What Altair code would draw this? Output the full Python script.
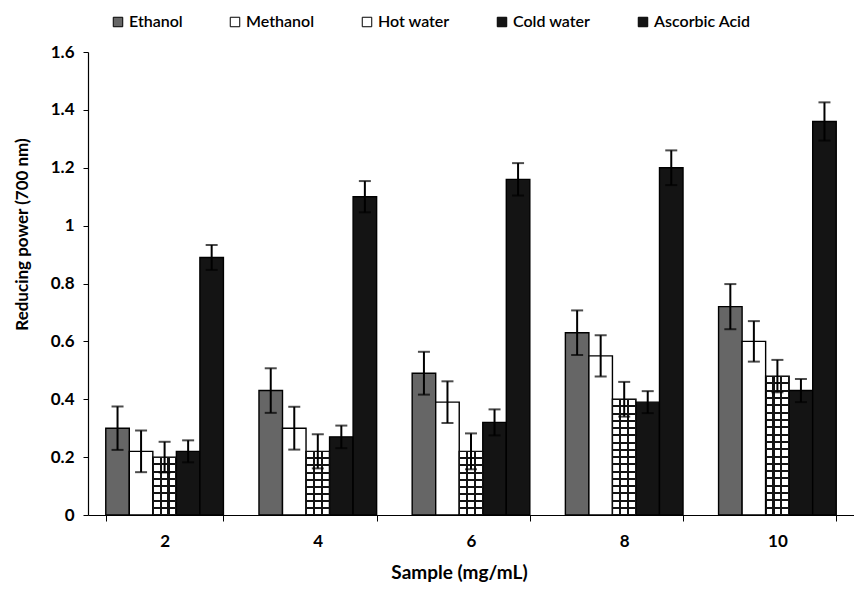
import altair as alt
import pandas as pd

samples = ["2", "4", "6", "8", "10"]
series = ["Ethanol", "Methanol", "Hot water", "Cold water", "Ascorbic Acid"]

ethanol = [0.30, 0.43, 0.49, 0.63, 0.72]
methanol = [0.22, 0.30, 0.39, 0.55, 0.60]
hot_water = [0.20, 0.22, 0.22, 0.40, 0.48]
cold_water = [0.22, 0.27, 0.32, 0.39, 0.43]
ascorbic = [0.89, 1.10, 1.16, 1.20, 1.36]

err_ethanol = [0.075, 0.077, 0.074, 0.077, 0.078]
err_methanol = [0.072, 0.074, 0.072, 0.071, 0.070]
err_hot_water = [0.053, 0.059, 0.062, 0.060, 0.056]
err_cold_water = [0.038, 0.039, 0.045, 0.038, 0.040]
err_ascorbic = [0.043, 0.054, 0.056, 0.060, 0.066]

y_ticks = [0, 0.2, 0.4, 0.6, 0.8, 1.0, 1.2, 1.4, 1.6]

values = [ethanol, methanol, hot_water, cold_water, ascorbic]
errors = [err_ethanol, err_methanol, err_hot_water, err_cold_water, err_ascorbic]

rows = []
for s, vals, errs in zip(series, values, errors):
    for smp, v, e in zip(samples, vals, errs):
        rows.append({"sample": smp, "series": s, "value": v,
                     "lo": v - e, "hi": v + e})
df = pd.DataFrame(rows)

W, H = 766, 463
FONT = "Lato"
BLACK = "#141414"
CLEAR = "rgba(0,0,0,0)"

x_enc = alt.X("sample:N", sort=samples,
              scale=alt.Scale(paddingInner=0.232, paddingOuter=0.116),
              axis=alt.Axis(title="Sample (mg/mL)", labelAngle=0, tickBand="extent",
                            tickSize=6, labelPadding=12, titleX=371, titleY=57,
                            titleBaseline="middle", titleFontSize=19))
xo_enc = alt.XOffset("series:N", sort=series,
                     scale=alt.Scale(domain=series, paddingInner=0, paddingOuter=0))
y_scale = alt.Scale(domain=[0, 1.6], nice=False)
y_enc = alt.Y("value:Q", scale=y_scale,
              axis=alt.Axis(title="Reducing power (700 nm)", values=y_ticks,
                            format=".1~f", tickSize=5, labelPadding=9,
                            titleX=-66, titleY=182, titleAngle=-90,
                            titleBaseline="middle", titleAlign="center"))

base = alt.Chart(df)

bars = base.mark_bar(stroke="black", strokeWidth=1.4).encode(
    x=x_enc, xOffset=xo_enc, y=y_enc,
    color=alt.Color("series:N",
                    scale=alt.Scale(domain=series,
                                    range=["#666666", "#ffffff", "#ffffff", BLACK, BLACK]),
                    legend=alt.Legend(title=None, orient="none", legendX=22, legendY=-38,
                                      direction="horizontal", columns=5,
                                      symbolType="square", symbolSize=90,
                                      symbolStrokeColor="black", symbolStrokeWidth=1,
                                      labelFont=FONT, labelFontSize=16,
                                      labelFontWeight=600, labelColor="black",
                                      columnPadding=44, labelOffset=3)),
)


def stripe_stops(n, half):
    stops = []
    for k in range(n + 1):
        c = k / n
        a = max(0.0, c - half)
        b = min(1.0, c + half)
        stops += [alt.GradientStop(offset=a, color=CLEAR),
                  alt.GradientStop(offset=a, color=BLACK),
                  alt.GradientStop(offset=b, color=BLACK),
                  alt.GradientStop(offset=b, color=CLEAR)]
    return stops


hw = df[df["series"] == "Hot water"]
layers = [bars]

vgrad = alt.LinearGradient(gradient="linear", x1=0, x2=1, y1=0, y2=0,
                           stops=stripe_stops(3, 0.045))
layers.append(alt.Chart(hw).mark_bar(fill=vgrad, strokeWidth=0).encode(
    x=x_enc, xOffset=xo_enc, y=y_enc))

px_per_unit = H / 1.6
for _, r in hw.iterrows():
    h_px = r["value"] * px_per_unit
    n = max(1, round(h_px / 7.2))
    hgrad = alt.LinearGradient(gradient="linear", x1=0, x2=0, y1=0, y2=1,
                               stops=stripe_stops(n, 1.0 / h_px))
    one = hw[hw["sample"] == r["sample"]]
    layers.append(alt.Chart(one).mark_bar(fill=hgrad, strokeWidth=0).encode(
        x=x_enc, xOffset=xo_enc, y=y_enc))

err_rule = base.mark_rule(color="black", strokeWidth=2).encode(
    x=x_enc, xOffset=xo_enc,
    y=alt.Y("lo:Q", scale=y_scale), y2="hi:Q")
cap_hi = base.mark_tick(color="black", thickness=2, size=12).encode(
    x=x_enc, xOffset=xo_enc, y=alt.Y("hi:Q", scale=y_scale))
cap_lo = base.mark_tick(color="black", thickness=2, size=12).encode(
    x=x_enc, xOffset=xo_enc, y=alt.Y("lo:Q", scale=y_scale))
layers += [err_rule, cap_hi, cap_lo]

chart = alt.layer(*layers).properties(
    width=W, height=H, autosize="none",
    padding={"left": 80, "top": 44, "right": 0, "bottom": 73},
).configure_view(stroke=None).configure_axis(
    grid=False, domainColor="black", tickColor="black", domainWidth=1.2,
    labelFont=FONT, labelFontSize=17, labelFontWeight="bold", labelColor="black",
    titleFont=FONT, titleFontSize=17, titleFontWeight="bold", titleColor="black",
)

chart.save("out.html", embed_options={"renderer": "svg", "actions": False})
